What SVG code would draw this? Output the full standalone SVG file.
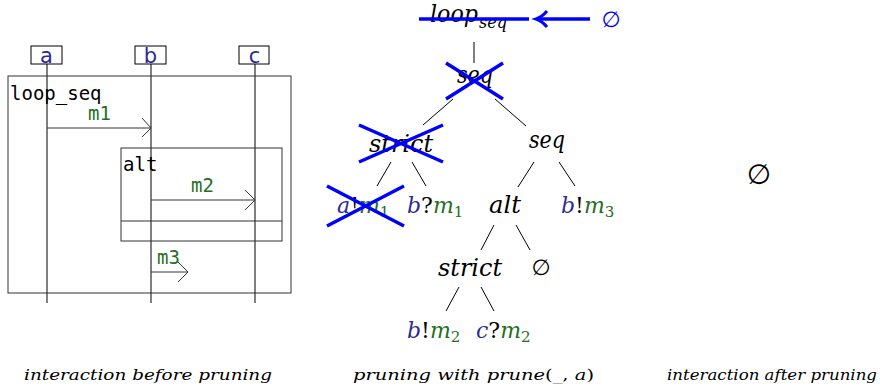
<svg xmlns="http://www.w3.org/2000/svg" width="880" height="388" viewBox="0 0 880 388">
<style>
.mono{font-family:'DejaVu Sans Mono',monospace;font-size:19px}
.lbl{font-family:'DejaVu Sans',sans-serif;font-size:21px}
.ln{stroke:#000;stroke-width:1;fill:none}
.fr{stroke:#333;stroke-width:1;fill:none}
.ah{stroke:#333;stroke-width:1;fill:none}
.blu{fill:#2b2b96}
.grn{fill:#237023}
.t{font-family:'DejaVu Serif',serif;font-style:italic;font-size:24px;fill:#000}
.lf{font-family:'DejaVu Serif',serif;font-style:italic;font-size:22px;fill:#000}
.ts{font-family:'DejaVu Serif',serif;font-style:italic;font-size:17px;fill:#000}
.up{font-style:normal}
.sub{font-size:15px;font-style:normal}
.x{stroke:#0000ff;stroke-width:3.5;fill:none}
.cap{font-family:'DejaVu Serif',serif;font-style:italic;font-size:15px;fill:#000}
</style>
<rect width="880" height="388" fill="#fff"/>

<!-- left: sequence diagram -->
<g id="lifeline-a">
  <rect x="31" y="46" width="31" height="18" fill="#fff" stroke="#000"/>
  <text x="46.5" y="63" class="lbl blu" text-anchor="middle">a</text>
  <line x1="47" y1="64" x2="47" y2="303" class="ln"/>
</g>
<g id="lifeline-b">
  <rect x="135" y="46" width="31" height="18" fill="#fff" stroke="#000"/>
  <text x="150.5" y="63" class="lbl blu" text-anchor="middle">b</text>
  <line x1="151" y1="64" x2="151" y2="303" class="ln"/>
</g>
<g id="lifeline-c">
  <rect x="239" y="46" width="30" height="18" fill="#fff" stroke="#000"/>
  <text x="254.5" y="63" class="lbl blu" text-anchor="middle">c</text>
  <line x1="255" y1="64" x2="255" y2="303" class="ln"/>
</g>
<g id="frame-loop">
  <rect x="8" y="76" width="283" height="217" class="fr"/>
  <text x="10" y="100" class="mono" fill="#000">loop_seq</text>
</g>
<g id="frame-alt">
  <rect x="121" y="148" width="161" height="93" class="fr"/>
  <line x1="121" y1="221" x2="282" y2="221" class="fr"/>
  <text x="123" y="171" class="mono" fill="#000">alt</text>
</g>
<g id="messages">
  <g id="msg-m1">
    <line x1="47" y1="128" x2="151" y2="128" class="ah"/>
    <polyline points="142,118 151,128 142,137" class="ah"/>
    <text x="88" y="120" class="mono grn">m1</text>
  </g>
  <g id="msg-m2">
    <line x1="151" y1="200" x2="255" y2="200" class="ah"/>
    <polyline points="245,190 255,200 245,210" class="ah"/>
    <text x="191" y="192" class="mono grn">m2</text>
  </g>
  <g id="msg-m3">
    <line x1="151" y1="272" x2="188" y2="272" class="ah"/>
    <polyline points="178,262 188,272 178,282" class="ah"/>
    <text x="157" y="264" class="mono grn">m3</text>
  </g>
</g>

<!-- middle: pruning tree -->
<g id="connectors">
  <line x1="474" y1="42" x2="474" y2="63" class="ln"/>
  <line x1="453" y1="99" x2="423" y2="125" class="ln"/>
  <line x1="495" y1="99" x2="526" y2="126" class="ln"/>
  <line x1="391" y1="162" x2="377" y2="186" class="ln"/>
  <line x1="412" y1="162" x2="426" y2="186" class="ln"/>
  <line x1="534" y1="162" x2="518" y2="187" class="ln"/>
  <line x1="559" y1="162" x2="575" y2="186" class="ln"/>
  <line x1="494" y1="225" x2="481" y2="250" class="ln"/>
  <line x1="516" y1="225" x2="530" y2="250" class="ln"/>
  <line x1="459" y1="287" x2="446" y2="311" class="ln"/>
  <line x1="481" y1="287" x2="494" y2="311" class="ln"/>
  <g id="prune-arrow">
    <line x1="590" y1="19" x2="539" y2="19" stroke="#0000ff" stroke-width="3.5"/>
    <path d="M547,11 Q542,17 536,19 Q542,21 547,27" stroke="#0000ff" stroke-width="3" fill="none"/>
  </g>
</g>
<g id="node-loop">
  <text x="430" y="22" class="t" textLength="48" lengthAdjust="spacingAndGlyphs">loop</text>
  <text x="479" y="28" class="ts" textLength="28" lengthAdjust="spacingAndGlyphs">seq</text>
  <line x1="419" y1="19" x2="529" y2="19" class="x"/>
</g>
<g id="node-empty-top">
  <text x="611" y="27" font-family="DejaVu Sans, sans-serif" font-size="22" fill="#0000ff" text-anchor="middle">∅</text>
</g>
<g id="node-seq1">
  <text x="475" y="83" class="t" text-anchor="middle" textLength="36" lengthAdjust="spacingAndGlyphs">seq</text>
  <path d="M446,63 L503,99 M446,99 L503,63" class="x"/>
</g>
<g id="node-strict1">
  <text x="369" y="152" class="t" textLength="64" lengthAdjust="spacingAndGlyphs">strict</text>
  <path d="M359,125 L443,162 M359,162 L443,125" class="x"/>
</g>
<g id="node-seq2">
  <text x="547" y="148" class="t" text-anchor="middle" textLength="36" lengthAdjust="spacingAndGlyphs">seq</text>
</g>
<g id="node-am1">
  <text x="337" y="213" class="lf"><tspan class="blu">a</tspan><tspan class="up">!</tspan><tspan class="grn">m</tspan><tspan class="sub grn" dy="4">1</tspan></text>
  <path d="M327,186 L404,226 M327,226 L404,186" class="x"/>
</g>
<g id="node-bm1">
  <text x="407" y="213" class="lf"><tspan class="blu">b</tspan><tspan class="up">?</tspan><tspan class="grn">m</tspan><tspan class="sub grn" dy="4">1</tspan></text>
</g>
<g id="node-alt">
  <text x="505" y="213" class="t" text-anchor="middle" textLength="32" lengthAdjust="spacingAndGlyphs">alt</text>
</g>
<g id="node-bm3">
  <text x="561" y="213" class="lf"><tspan class="blu">b</tspan><tspan class="up">!</tspan><tspan class="grn">m</tspan><tspan class="sub grn" dy="4">3</tspan></text>
</g>
<g id="node-strict2">
  <text x="438" y="276" class="t" textLength="64" lengthAdjust="spacingAndGlyphs">strict</text>
</g>
<g id="node-empty-alt">
  <text x="541" y="275" font-family="DejaVu Sans, sans-serif" font-size="22" fill="#000" text-anchor="middle">∅</text>
</g>
<g id="node-bm2">
  <text x="407" y="338" class="lf"><tspan class="blu">b</tspan><tspan class="up">!</tspan><tspan class="grn">m</tspan><tspan class="sub grn" dy="4">2</tspan></text>
</g>
<g id="node-cm2">
  <text x="476" y="338" class="lf"><tspan class="blu">c</tspan><tspan class="up">?</tspan><tspan class="grn">m</tspan><tspan class="sub grn" dy="4">2</tspan></text>
</g>

<!-- right: result -->
<g id="node-result">
  <text x="759" y="184" font-family="DejaVu Sans, sans-serif" font-size="28" fill="#000" text-anchor="middle">∅</text>
</g>

<!-- captions -->
<g id="captions">
  <text x="24" y="380" class="cap" textLength="248" lengthAdjust="spacingAndGlyphs">interaction before pruning</text>
  <text x="353" y="380" class="cap" textLength="241" lengthAdjust="spacingAndGlyphs">pruning with prune<tspan class="up">(</tspan><tspan fill="#777">_</tspan><tspan class="up">, </tspan>a<tspan class="up">)</tspan></text>
  <text x="667" y="380" class="cap" textLength="210" lengthAdjust="spacingAndGlyphs">interaction after pruning</text>
</g>
</svg>
